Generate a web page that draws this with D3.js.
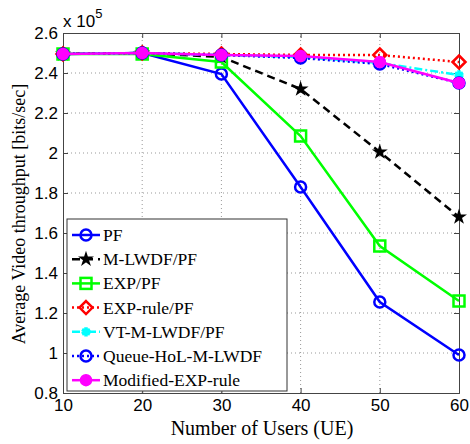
<!DOCTYPE html>
<html>
<head>
<meta charset="utf-8">
<script src="https://cdn.jsdelivr.net/npm/d3@7"></script>
<style>
  body { margin: 0; background: #fff; }
  .tick text { font-family: "Liberation Sans", Arial, sans-serif; font-size: 17px; fill: #000; }
  .lbl { font-family: "Liberation Serif", "Times New Roman", serif; font-size: 17.5px; fill: #000; }
</style>
</head>
<body>
<div id="chart"></div>
<script>
var users = [10, 20, 30, 40, 50, 60];
var xTicks = [10, 20, 30, 40, 50, 60];
var yTicks = [0.8, 1, 1.2, 1.4, 1.6, 1.8, 2, 2.2, 2.4, 2.6];

// values in units of 1e5 bits/sec
var pf       = [2.495, 2.50, 2.395, 1.83, 1.255, 0.99];
var mlwdf    = [2.495, 2.50, 2.48, 2.32, 2.005, 1.68];
var expPf    = [2.495, 2.495, 2.455, 2.085, 1.535, 1.26];
var expRule  = [2.495, 2.50, 2.495, 2.49, 2.49, 2.455];
var vtMlwdf  = [2.495, 2.50, 2.49, 2.48, 2.45, 2.39];
var queueHol = [2.495, 2.50, 2.49, 2.475, 2.445, 2.35];
var modExp   = [2.495, 2.50, 2.49, 2.485, 2.455, 2.35];

var seriesNames = ["PF", "M-LWDF/PF", "EXP/PF", "EXP-rule/PF", "VT-M-LWDF/PF", "Queue-HoL-M-LWDF", "Modified-EXP-rule"];
var seriesValues = [pf, mlwdf, expPf, expRule, vtMlwdf, queueHol, modExp];

var styles = [
  {color: "#0000ff", dash: null,      marker: "circle"},
  {color: "#000000", dash: "8,5",     marker: "star"},
  {color: "#00ff00", dash: null,      marker: "square"},
  {color: "#ff0000", dash: "2,3",     marker: "diamond"},
  {color: "#00ffff", dash: "8,3,2,3", marker: "asterisk"},
  {color: "#0000ff", dash: "2,3",     marker: "circle"},
  {color: "#ff00ff", dash: null,      marker: "dot"}
];

var width = 470, height = 444;
var margin = {left: 63, top: 33, right: 11, bottom: 51};

var svg = d3.select("#chart").append("svg")
  .attr("width", width).attr("height", height);

var x = d3.scaleLinear().domain([10, 60]).range([margin.left, width - margin.right]);
var y = d3.scaleLinear().domain([0.8, 2.6]).range([height - margin.bottom, margin.top]);

var x0 = x.range()[0], x1 = x.range()[1], y0 = y.range()[0], y1 = y.range()[1];

// grid
var grid = svg.append("g");
grid.selectAll(".gx").data(xTicks.slice(1, -1)).enter().append("line")
  .attr("x1", d => x(d)).attr("x2", d => x(d)).attr("y1", y0).attr("y2", y1)
  .attr("stroke", "#999").attr("stroke-dasharray", "1,3");
grid.selectAll(".gy").data(yTicks.slice(1, -1)).enter().append("line")
  .attr("y1", d => y(d)).attr("y2", d => y(d)).attr("x1", x0).attr("x2", x1)
  .attr("stroke", "#999").attr("stroke-dasharray", "1,3");

// axes
var xAxis = svg.append("g").attr("transform", "translate(0," + y0 + ")")
  .call(d3.axisBottom(x).tickValues(xTicks).tickSize(-5).tickPadding(8).tickFormat(d3.format("d")));
var yAxis = svg.append("g").attr("transform", "translate(" + x0 + ",0)")
  .call(d3.axisLeft(y).tickValues(yTicks).tickSize(-5).tickPadding(5).tickFormat(d => d3.format("")(+d.toFixed(1))));
svg.append("g").attr("transform", "translate(0," + y1 + ")")
  .call(d3.axisTop(x).tickValues(xTicks).tickSize(-5).tickFormat(""));
svg.append("g").attr("transform", "translate(" + x1 + ",0)")
  .call(d3.axisRight(y).tickValues(yTicks).tickSize(-5).tickFormat(""));
svg.selectAll(".domain").attr("stroke", "#444");
svg.selectAll(".tick line").attr("stroke", "#444");
xAxis.selectAll(".tick text").attr("dy", "0.6em");
yAxis.selectAll(".tick text").attr("dy", "0.35em");

svg.append("text").attr("class", "lbl").style("font-size", "20px")
  .attr("x", (x0 + x1) / 2 + 1).attr("y", 435)
  .attr("text-anchor", "middle").text("Number of Users (UE)");
svg.append("text").attr("class", "lbl").style("font-size", "18px")
  .attr("transform", "translate(25,214) rotate(-90)")
  .attr("text-anchor", "middle").text("Average Video throughput [bits/sec]");

var mult = svg.append("text").attr("x", x0).attr("y", 27)
  .style("font-family", "Liberation Sans, Arial, sans-serif").style("font-size", "17px");
mult.append("tspan").text("x 10");
mult.append("tspan").attr("dy", -9).style("font-size", "13px").text("5");

function drawMarker(g, m, color, cx, cy) {
  if (m === "circle") {
    g.append("circle").attr("cx", cx).attr("cy", cy).attr("r", 5.5)
      .attr("fill", "none").attr("stroke", color).attr("stroke-width", 2.5);
  } else if (m === "square") {
    g.append("rect").attr("x", cx - 5.5).attr("y", cy - 5.5).attr("width", 11).attr("height", 11)
      .attr("fill", "none").attr("stroke", color).attr("stroke-width", 2.5);
  } else if (m === "diamond") {
    g.append("path").attr("d", "M" + cx + "," + (cy - 6.5) + "L" + (cx + 6.5) + "," + cy + "L" + cx + "," + (cy + 6.5) + "L" + (cx - 6.5) + "," + cy + "Z")
      .attr("fill", "none").attr("stroke", color).attr("stroke-width", 2.5);
  } else if (m === "star") {
    g.append("path").attr("d", d3.symbol().type(d3.symbolStar).size(40)())
      .attr("transform", "translate(" + cx + "," + cy + ")")
      .attr("fill", color).attr("stroke", color).attr("stroke-width", 1.5);
  } else if (m === "asterisk") {
    g.append("path").attr("d", d3.symbol().type(d3.symbolAsterisk).size(60)())
      .attr("transform", "translate(" + cx + "," + cy + ")")
      .attr("fill", "none").attr("stroke", color).attr("stroke-width", 3.5);
  } else if (m === "dot") {
    g.append("circle").attr("cx", cx).attr("cy", cy).attr("r", 5.5)
      .attr("fill", color).attr("stroke", color).attr("stroke-width", 1.5);
  }
}

var line = d3.line().x((d, i) => x(users[i])).y(d => y(d));

seriesValues.forEach(function(vals, k) {
  var st = styles[k];
  var g = svg.append("g");
  g.append("path").datum(vals).attr("d", line)
    .attr("fill", "none").attr("stroke", st.color).attr("stroke-width", 2.5)
    .attr("stroke-dasharray", st.dash);
  vals.forEach(function(v, i) { drawMarker(g, st.marker, st.color, x(users[i]), y(v)); });
});

// legend
var lx = 67, ly = 219, lw = 220, lh = 172;
var leg = svg.append("g");
leg.append("rect").attr("x", lx).attr("y", ly).attr("width", lw).attr("height", lh)
  .attr("fill", "#fff").attr("stroke", "#333");
seriesNames.forEach(function(name, k) {
  var st = styles[k];
  var yy = ly + 16 + k * 24.2;
  leg.append("line").attr("x1", lx + 5).attr("x2", lx + 33).attr("y1", yy).attr("y2", yy)
    .attr("stroke", st.color).attr("stroke-width", 2.5).attr("stroke-dasharray", st.dash);
  drawMarker(leg, st.marker, st.color, lx + 19, yy);
  leg.append("text").attr("class", "lbl").attr("x", lx + 36).attr("y", yy + 6).text(name);
});
</script>
</body>
</html>
